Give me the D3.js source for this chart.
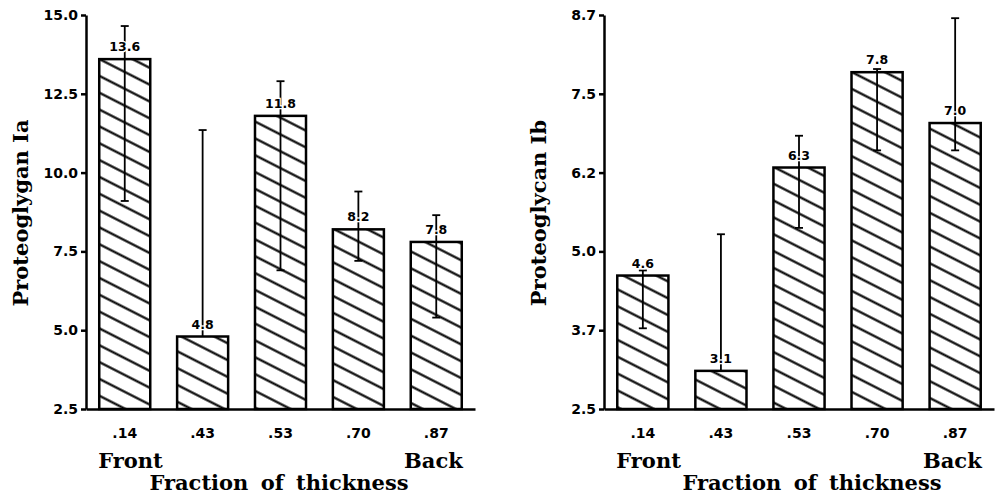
<!DOCTYPE html>
<html>
<head>
<meta charset="utf-8">
<script src="https://cdn.jsdelivr.net/npm/d3@7"></script>
<style>
  body { margin: 0; background: #fff; }
  svg { display: block; }
</style>
</head>
<body>
<svg id="chart" width="995" height="497"></svg>
<script>
// fraction of thickness, front -> back
const categories = ['.14', '.43', '.53', '.70', '.87'];

// proteoglygan Ia
const iaValues = [13.6, 4.8, 11.8, 8.2, 7.8];
const iaLow = [9.1, 4.8, 6.9, 7.2, 5.4];
const iaHigh = [14.65, 11.35, 12.9, 9.4, 8.65];
const iaTickLabels = ['2.5', '5.0', '7.5', '10.0', '12.5', '15.0'];

// proteoglycan Ib
const ibValues = [4.6, 3.1, 6.3, 7.8, 7.0];
const ibLow = [3.77, 3.1, 5.35, 6.57, 6.57];
const ibHigh = [4.68, 5.25, 6.8, 7.85, 8.65];
const ibTickLabels = ['2.5', '3.7', '5.0', '6.2', '7.5', '8.7'];

const svg = d3.select('#chart');

const defs = svg.append('defs');
const hatch = defs.append('pattern')
  .attr('id', 'hatch')
  .attr('patternUnits', 'userSpaceOnUse')
  .attr('width', 10)
  .attr('height', 15)
  .attr('patternTransform', 'rotate(27)');
hatch.append('rect').attr('width', 10).attr('height', 15).attr('fill', '#fff');
hatch.append('line')
  .attr('x1', 0).attr('x2', 10)
  .attr('y1', 7.5).attr('y2', 7.5)
  .attr('stroke', '#000')
  .attr('stroke-width', 2.2);

const plotTop = 15, plotBase = 409;
const titleFont = 'DejaVu Serif';
const tickFont = 'DejaVu Sans';

const drawPanel = (opts) => {
  const { axisX, endX, domain, tickLabels, values, low, high, yTitle, titleCx } = opts;

  const rows = values.map((v, i) => ({ cat: categories[i], value: v, low: low[i], high: high[i] }));

  const x = d3.scaleBand().domain(categories).range([axisX, endX]).paddingInner(0.345).paddingOuter(0.17);
  const y = d3.scaleLinear().domain(domain).range([plotBase, plotTop]);
  const step = (domain[1] - domain[0]) / (tickLabels.length - 1);
  const tickVals = tickLabels.map((_, i) => domain[0] + i * step);

  const g = svg.append('g');

  // bars
  g.selectAll('rect.bar')
    .data(rows)
    .enter()
    .append('rect')
    .attr('class', 'bar')
    .attr('x', d => x(d.cat))
    .attr('y', d => y(d.value))
    .attr('width', x.bandwidth())
    .attr('height', d => plotBase - y(d.value))
    .attr('fill', 'url(#hatch)')
    .attr('stroke', '#000')
    .attr('stroke-width', 2.5);

  // error bars
  const err = g.selectAll('g.err')
    .data(rows)
    .enter()
    .append('g')
    .attr('class', 'err')
    .attr('transform', d => `translate(${x(d.cat) + x.bandwidth() / 2},0)`);

  err.append('line')
    .attr('y1', d => y(d.high))
    .attr('y2', d => y(d.low))
    .attr('stroke', '#000')
    .attr('stroke-width', 1.8);
  err.append('line')
    .attr('x1', -4).attr('x2', 4)
    .attr('y1', d => y(d.high))
    .attr('y2', d => y(d.high))
    .attr('stroke', '#000')
    .attr('stroke-width', 1.8);
  err.filter(d => d.low < d.value)
    .append('line')
    .attr('x1', -4).attr('x2', 4)
    .attr('y1', d => y(d.low))
    .attr('y2', d => y(d.low))
    .attr('stroke', '#000')
    .attr('stroke-width', 1.8);

  // value labels (white halo breaks the error line like the original)
  err.append('text')
    .attr('y', d => y(d.value) - 8)
    .attr('text-anchor', 'middle')
    .attr('font-family', tickFont)
    .attr('font-weight', 'bold')
    .attr('font-size', 12.5)
    .attr('stroke', '#fff')
    .attr('stroke-width', 2.5)
    .attr('paint-order', 'stroke')
    .text(d => d.value.toFixed(1));

  // y axis
  const yAxis = g.append('g')
    .attr('transform', `translate(${axisX},0)`)
    .call(d3.axisLeft(y).tickValues(tickVals).tickFormat((d, i) => tickLabels[i]).tickSize(5).tickSizeOuter(0).tickPadding(3));
  yAxis.select('.domain').attr('stroke-width', 2.5);
  yAxis.selectAll('.tick line').attr('stroke-width', 2.5);
  yAxis.selectAll('text')
    .attr('font-family', tickFont)
    .attr('font-weight', 'bold')
    .attr('font-size', 14)
    .attr('fill', '#000');

  // x axis
  const xAxis = g.append('g')
    .attr('transform', `translate(0,${plotBase})`)
    .call(d3.axisBottom(x).tickSize(0).tickPadding(19));
  xAxis.select('.domain').attr('stroke-width', 2.5);
  xAxis.selectAll('text')
    .attr('font-family', tickFont)
    .attr('font-weight', 'bold')
    .attr('font-size', 14)
    .attr('fill', '#000');

  // Front / Back
  g.append('text')
    .attr('x', x(categories[0]) - 1)
    .attr('y', 468)
    .attr('font-family', titleFont)
    .attr('font-weight', 'bold')
    .attr('font-size', 21)
    .text('Front');
  g.append('text')
    .attr('x', x(categories[4]) + x.bandwidth() + 1)
    .attr('y', 468)
    .attr('text-anchor', 'end')
    .attr('font-family', titleFont)
    .attr('font-weight', 'bold')
    .attr('font-size', 21)
    .text('Back');

  g.append('text')
    .attr('x', titleCx)
    .attr('y', 490)
    .attr('text-anchor', 'middle')
    .attr('font-family', titleFont)
    .attr('font-weight', 'bold')
    .attr('font-size', 21)
    .attr('word-spacing', 5)
    .text('Fraction of thickness');

  g.append('text')
    .attr('transform', `translate(${axisX - 58},213) rotate(-90)`)
    .attr('text-anchor', 'middle')
    .attr('font-family', titleFont)
    .attr('font-weight', 'bold')
    .attr('font-size', 21)
    .text(yTitle);
};

drawPanel({
  axisX: 86, endX: 475, domain: [2.5, 15.0], tickLabels: iaTickLabels,
  values: iaValues, low: iaLow, high: iaHigh, yTitle: 'Proteoglygan Ia', titleCx: 279
});
drawPanel({
  axisX: 604, endX: 994, domain: [2.5, 8.7], tickLabels: ibTickLabels,
  values: ibValues, low: ibLow, high: ibHigh, yTitle: 'Proteoglycan Ib', titleCx: 812
});
</script>
</body>
</html>
